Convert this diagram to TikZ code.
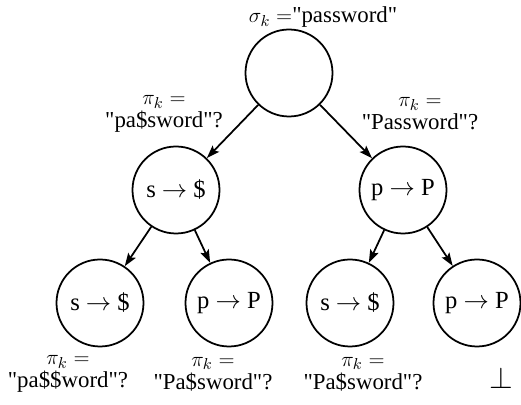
\documentclass[tikz,border=0pt]{standalone}
\usepackage{fontspec}
\setmainfont{Liberation Serif}
\usetikzlibrary{arrows.meta}
\newcommand{\qt}[1]{\textquotedbl#1\textquotedbl}

\begin{document}
\begin{tikzpicture}[x=0.2mm, y=-0.2mm, every node/.style={font=\fontsize{13}{13}\selectfont},
    rule/.style={circle, draw, line width=1pt, minimum size=17.4mm, inner sep=0pt, font=\fontsize{14}{14}\selectfont},
    guess/.style={align=center},
    link/.style={line width=1pt, -{Stealth[length=2.6mm, width=1.8mm, inset=0.5mm]}}]
                \useasboundingbox (0,0) rectangle (521,405);

                % root
                \node[rule] (root) at (289,73) {};
                \node (sigma) at (323,17) {$\sigma_k =$\qt{password}};

                % second level
                \node[rule] (s1) at (176,190) {s $\rightarrow$ \$};
                \node[rule] (p1) at (403,190) {p $\rightarrow$ P};
                \node[guess] (g1) at (164,114) {$\pi_k =$\\\qt{pa\$sword}?};
                \node[guess] (g2) at (420,114) {$\pi_k =$\\\qt{Password}?};
                \draw[link] (root) -- (s1);
                \draw[link] (root) -- (p1);

                % third level
                \node[rule] (ss) at (100,303) {s $\rightarrow$ \$};
                \node[rule] (sp) at (229,303) {p $\rightarrow$ P};
                \node[rule] (ps) at (350,303) {s $\rightarrow$ \$};
                \node[rule] (pp) at (477,303) {p $\rightarrow$ P};
                \draw[link] (s1) -- (ss);
                \draw[link] (s1) -- (sp);
                \draw[link] (p1) -- (ps);
                \draw[link] (p1) -- (pp);

                % guesses at the leaves
                \node[guess] (g3) at (68,374) {$\pi_k =$\\\qt{pa\$\$word}?};
                \node[guess] (g4) at (213,374) {$\pi_k =$\\\qt{Pa\$sword}?};
                \node[guess] (g5) at (363,374) {$\pi_k =$\\\qt{Pa\$sword}?};
                \node[font=\fontsize{17}{17}\selectfont] (none) at (501,378) {$\bot$};
            \end{tikzpicture}
\end{document}
